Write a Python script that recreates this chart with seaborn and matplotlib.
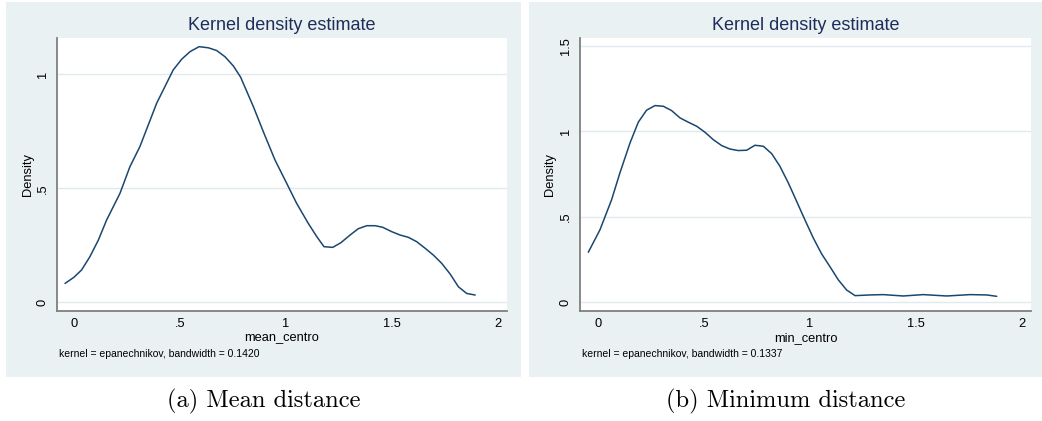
import numpy as np
import pandas as pd
import matplotlib
matplotlib.use("Agg")
import matplotlib.pyplot as plt
from matplotlib.patches import Rectangle
import seaborn as sns

# ---- data ----
mean_x = [-0.042, 0.0, 0.036, 0.075, 0.115, 0.154, 0.217, 0.264, 0.311, 0.39, 0.468, 0.508,
          0.547, 0.59, 0.634, 0.673, 0.712, 0.752, 0.786, 0.846, 0.893, 0.948, 1.003, 1.05,
          1.105, 1.145, 1.179, 1.22, 1.258, 1.302, 1.341, 1.381, 1.42, 1.456, 1.498, 1.538,
          1.577, 1.616, 1.656, 1.695, 1.734, 1.774, 1.813, 1.852, 1.892]
mean_y = [0.083, 0.11, 0.142, 0.2, 0.273, 0.361, 0.478, 0.595, 0.683, 0.873, 1.019, 1.066,
          1.099, 1.121, 1.116, 1.104, 1.077, 1.036, 0.987, 0.858, 0.748, 0.624, 0.522, 0.434,
          0.346, 0.288, 0.244, 0.241, 0.261, 0.295, 0.323, 0.336, 0.336, 0.329, 0.31, 0.295,
          0.285, 0.266, 0.237, 0.207, 0.171, 0.124, 0.068, 0.039, 0.032]

min_x = [-0.047, 0.008, 0.063, 0.102, 0.15, 0.189, 0.228, 0.268, 0.307, 0.346, 0.386, 0.425,
         0.465, 0.504, 0.543, 0.583, 0.622, 0.661, 0.701, 0.74, 0.78, 0.819, 0.858, 0.898,
         0.937, 0.976, 1.016, 1.055, 1.094, 1.134, 1.173, 1.213, 1.283, 1.346, 1.441, 1.535,
         1.646, 1.756, 1.835, 1.882]
min_y = [0.293, 0.424, 0.6, 0.756, 0.932, 1.053, 1.123, 1.15, 1.146, 1.121, 1.078, 1.053,
         1.029, 0.994, 0.951, 0.916, 0.896, 0.887, 0.889, 0.918, 0.912, 0.869, 0.795, 0.697,
         0.59, 0.482, 0.375, 0.283, 0.209, 0.131, 0.072, 0.039, 0.043, 0.045, 0.037, 0.045,
         0.037, 0.045, 0.043, 0.035]

x_ticks = [0, 0.5, 1, 1.5, 2]
x_tick_labels = ["0", ".5", "1", "1.5", "2"]
left_y_ticks = [0, 0.5, 1]
left_y_tick_labels = ["0", ".5", "1"]
right_y_ticks = [0, 0.5, 1, 1.5]
right_y_tick_labels = ["0", ".5", "1", "1.5"]

titles = ["Kernel density estimate", "Kernel density estimate"]
x_labels = ["mean_centro", "min_centro"]
notes = ["kernel = epanechnikov, bandwidth = 0.1420",
         "kernel = epanechnikov, bandwidth = 0.1337"]
captions = ["(a) Mean distance", "(b) Minimum distance"]

# ---- style ----
sns.set_style("white")
plt.rcParams["font.family"] = ["Liberation Sans", "DejaVu Sans"]

W, H = 1042, 421
fig = plt.figure(figsize=(W / 100, H / 100), dpi=100)
fig.patch.set_facecolor("white")

BG = "#E9F1F3"
GRID = "#E0EAED"
LINE = "#1A476F"
TITLE = "#1E2D5A"
SPINE = "#7F7F7F"


def px_rect(x0, y0, x1, y1):
    return [x0 / W, (H - y1) / H, (x1 - x0) / W, (y1 - y0) / H]


# gray graph regions (drawn behind the axes)
for (x0, x1) in [(6, 521), (529, 1042)]:
    r = px_rect(x0, 2, x1, 377)
    fig.patches.append(Rectangle((r[0], r[1]), r[2], r[3], transform=fig.transFigure,
                                 facecolor=BG, edgecolor="none", zorder=-5))

panels = [
    dict(rect=px_rect(57, 38, 507, 311), x=mean_x, y=mean_y, xlim=(-0.080, 2.042),
         ylim=(-0.038, 1.159), yt=left_y_ticks, ytl=left_y_tick_labels),
    dict(rect=px_rect(580, 38, 1031, 311), x=min_x, y=min_y, xlim=(-0.0864, 2.044),
         ylim=(-0.0508, 1.545), yt=right_y_ticks, ytl=right_y_tick_labels),
]

for i, p in enumerate(panels):
    ax = fig.add_axes(p["rect"])
    ax.set_zorder(1)
    ax.set_facecolor("white")
    df = pd.DataFrame({"x": p["x"], "y": p["y"]})
    sns.lineplot(data=df, x="x", y="y", ax=ax, color=LINE, linewidth=1.1, sort=False)
    ax.set_xlim(*p["xlim"])
    ax.set_ylim(*p["ylim"])
    ax.set_xticks(x_ticks)
    ax.set_xticklabels(x_tick_labels)
    ax.set_yticks(p["yt"])
    ax.set_yticklabels(p["ytl"], rotation=90, va="center")
    for yv in p["yt"]:
        ax.axhline(yv, color=GRID, linewidth=1.0, zorder=0.5)
    for s in ["top", "right"]:
        ax.spines[s].set_visible(False)
    for s in ["left", "bottom"]:
        ax.spines[s].set_color(SPINE)
        ax.spines[s].set_linewidth(1.3)
    ax.tick_params(axis="both", direction="out", length=3.6, width=0.8, color="#333333",
                   labelsize=9.3, labelcolor="black")
    ax.tick_params(axis="x", pad=1.5)
    ax.tick_params(axis="y", pad=2.5)
    ax.set_xlabel(x_labels[i], fontsize=9.3, color="black")
    ax.xaxis.set_label_coords(0.5, (311 - 337.7) / 273)
    ax.xaxis.label.set_va("center")
    ax.set_ylabel("Density", fontsize=9.3, color="black")
    ylab_x = (28 - 57) / 450 if i == 0 else (550 - 580) / 451
    ax.yaxis.set_label_coords(ylab_x, 0.5)
    ax.yaxis.label.set_va("center")
    ax.text(0.5, (311 - 25) / 273, titles[i], transform=ax.transAxes, ha="center",
            va="center", fontsize=13, color=TITLE)
    ax.text(0.004, (311 - 354) / 273, notes[i], transform=ax.transAxes, ha="left",
            va="center", fontsize=7.5, color="black")

# captions
for cx, cap in zip([263.5, 785.5], captions):
    fig.text(cx / W, (H - 401) / H, cap, ha="center", va="center", fontsize=17.6,
             family=["cmr10", "DejaVu Serif"], color="black")

fig.savefig("out.png", dpi=100)
